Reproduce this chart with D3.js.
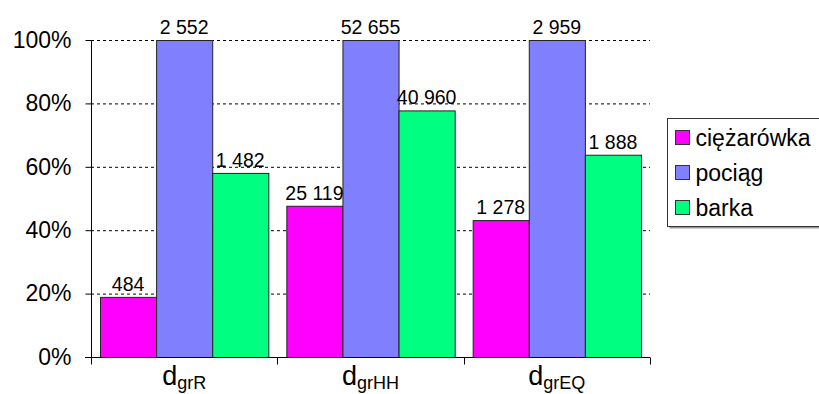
<!DOCTYPE html>
<html>
<head>
<meta charset="utf-8">
<script src="https://cdn.jsdelivr.net/npm/d3@7"></script>
<style>
  body { margin: 0; background: #fff; }
  text { font-family: "Liberation Sans", Arial, sans-serif; fill: #000; }
</style>
</head>
<body>
<div id="chart"></div>
<script>
// categories (main letter + subscript) and series
var categories = ["grR", "grHH", "grEQ"];
var seriesNames = ["ciężarówka", "pociąg", "barka"];
var truck = [484, 25119, 1278];
var train = [2552, 52655, 2959];
var barge = [1482, 40960, 1888];
var yTicks = [0, 0.2, 0.4, 0.6, 0.8, 1.0];
var colors = ["#ff00ff", "#8080ff", "#00ff80"];

var seriesVals = [truck, train, barge];

// percent of the largest value in each category
var rows = [];
categories.forEach(function(c, i) {
  var m = d3.max(seriesVals, function(s) { return s[i]; });
  seriesNames.forEach(function(s, j) {
    rows.push({cat: c, series: s, value: seriesVals[j][i], pct: seriesVals[j][i] / m, color: colors[j]});
  });
});

var margin = {top: 40, right: 169, bottom: 37, left: 91},
    width = 819 - margin.left - margin.right,
    height = 394 - margin.top - margin.bottom;

var svg = d3.select("#chart").append("svg")
    .attr("width", 819)
    .attr("height", 394);

var g = svg.append("g")
    .attr("transform", "translate(" + margin.left + "," + margin.top + ")");

var x = d3.scaleBand().domain(categories).range([0, width]).paddingInner(0).paddingOuter(0);
var xs = d3.scaleBand().domain(seriesNames).range([9, x.bandwidth() - 9]);
var y = d3.scaleLinear().domain([0, 1]).range([height, 0]);

// dashed gridlines
g.selectAll("line.grid")
  .data(yTicks.filter(function(d) { return d > 0; }))
  .enter().append("line")
    .attr("x1", 0).attr("x2", width)
    .attr("y1", function(d) { return y(d) + 0.5; })
    .attr("y2", function(d) { return y(d) + 0.5; })
    .attr("stroke", "#000")
    .attr("stroke-dasharray", "3,3");

// bars
g.selectAll("rect.bar")
  .data(rows)
  .enter().append("rect")
    .attr("x", function(d) { return x(d.cat) + xs(d.series) + 0.5; })
    .attr("y", function(d) { return y(d.pct) + 0.5; })
    .attr("width", xs.bandwidth())
    .attr("height", function(d) { return height - y(d.pct); })
    .attr("fill", function(d) { return d.color; })
    .attr("stroke", "#222")
    .attr("stroke-width", 1);

// value labels
var fmt = function(v) { return d3.format(",")(v).replace(/,/g, " "); };
g.selectAll("text.lbl")
  .data(rows)
  .enter().append("text")
    .attr("x", function(d) { return x(d.cat) + xs(d.series) + xs.bandwidth() / 2; })
    .attr("y", function(d) { return y(d.pct) - 6; })
    .attr("text-anchor", "middle")
    .style("font-size", "19.5px")
    .text(function(d) { return fmt(d.value); });

// y axis
var yAxis = g.append("g")
  .attr("transform", "translate(0.5,0)")
  .call(d3.axisLeft(y).tickValues(yTicks).tickFormat(d3.format(".0%")).tickSize(6).tickPadding(14));
yAxis.select(".domain").attr("stroke", "#000").attr("d", "M0," + (y(1) + 0.5) + "V" + (height + 0.5));
yAxis.selectAll(".tick line").attr("stroke", "#000");
yAxis.selectAll(".tick").attr("transform", function(d) { return "translate(0," + (y(d) + 0.5) + ")"; });
yAxis.selectAll("text").style("font-size", "23px").attr("font-family", null);

// x axis with ticks at category boundaries
var xAxis = g.append("g").attr("transform", "translate(0," + (height + 0.5) + ")");
xAxis.append("line").attr("x1", -6).attr("x2", width).attr("stroke", "#000");
xAxis.selectAll("line.tk")
  .data(categories.map(function(c) { return x(c); }).concat([width]))
  .enter().append("line")
    .attr("x1", function(d) { return Math.round(d) + 0.5; })
    .attr("x2", function(d) { return Math.round(d) + 0.5; })
    .attr("y1", 0).attr("y2", 7)
    .attr("stroke", "#000");

var cl = xAxis.selectAll("text.cat")
  .data(categories)
  .enter().append("text")
    .attr("x", function(d) { return x(d) + x.bandwidth() / 2; })
    .attr("y", 27)
    .attr("text-anchor", "middle")
    .style("font-size", "27px");
cl.append("tspan").text("d");
cl.append("tspan").attr("dy", 4).style("font-size", "18px").text(function(d) { return d; });

// legend
var lg = svg.append("g").attr("transform", "translate(667.5,118.5)");
lg.append("rect").attr("x", 2).attr("y", 2).attr("width", 160).attr("height", 108).attr("fill", "#999");
lg.append("rect").attr("width", 160).attr("height", 108).attr("fill", "#fff").attr("stroke", "#333");
var li = lg.selectAll("g.item")
  .data(seriesNames)
  .enter().append("g")
    .attr("transform", function(d, i) { return "translate(0," + (19 + i * 35) + ")"; });
li.append("rect")
  .attr("x", 8).attr("y", -7).attr("width", 14).attr("height", 14)
  .attr("fill", function(d, i) { return colors[i]; })
  .attr("stroke", "#333");
li.append("text")
  .attr("x", 28).attr("y", 8)
  .style("font-size", "23px")
  .text(function(d) { return d; });
</script>
</body>
</html>
